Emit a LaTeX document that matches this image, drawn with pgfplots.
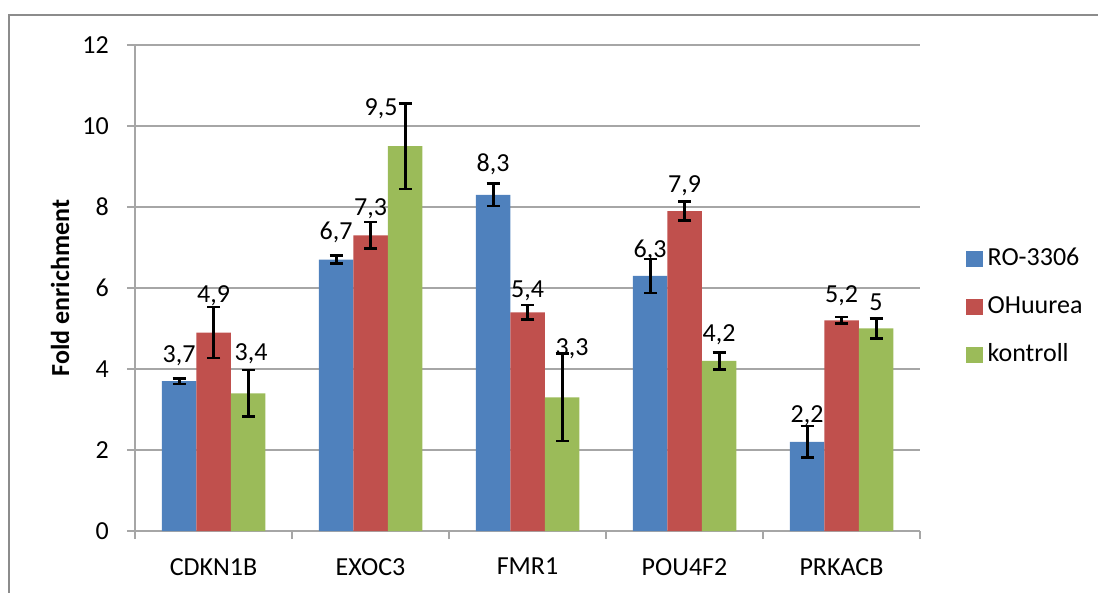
\documentclass[border=0pt]{standalone}
\usepackage{pgfplots}
\pgfplotsset{compat=1.18}
\usepackage{pgfplotstable}
\usepackage{fontspec}
\setmainfont{Carlito}
\definecolor{cblue}{HTML}{4F81BD}
\definecolor{cred}{HTML}{C0504D}
\definecolor{cgreen}{HTML}{9BBB59}
\definecolor{gridgray}{HTML}{A6A6A6}
\definecolor{framegray}{HTML}{8C8C8C}

\pgfplotstableread{
x y err lab off xoff
0 3.7 0.07 3,7 19 0
1 6.7 0.10 6,7 20 0
2 8.3 0.28 8,3 23 0
3 6.3 0.42 6,3 18 0
4 2.2 0.39 2,2 19 0
}\tblue
\pgfplotstableread{
x y err lab off xoff
0 4.9 0.63 4,9 30 0
1 7.3 0.33 7,3 20 0
2 5.4 0.18 5,4 15 0
3 7.9 0.24 7,9 19 0
4 5.2 0.08 5,2 18 0
}\tred
\pgfplotstableread{
x y err lab off xoff
0 3.4 0.58 3,4 33 3
1 9.5 1.06 9,5 31 -24
2 3.3 1.08 3,3 42 10
3 4.2 0.21 4,2 19 0
4 5.0 0.25 5 18 0
}\tgreen

\begin{document}
\begin{tikzpicture}[font=\fontsize{26}{31}\selectfont]
\useasboundingbox (0,0) rectangle (1098pt,592pt);
\draw[framegray, line width=2pt] (1200pt,577pt) -- (9pt,577pt) -- (9pt,-20pt);
\begin{axis}[
  at={(135pt,61pt)}, anchor=south west,
  scale only axis, width=785pt, height=486pt,
  ymin=0, ymax=12, ytick={0,2,...,12},
  xmin=-0.5, xmax=4.5,
  xtick={-0.5,0.5,...,4.5},
  x tick label as interval,
  xticklabels={CDKN1B,EXOC3,FMR1,POU4F2,PRKACB},
  axis x line*=bottom, axis y line*=left,
  axis line style={gridgray, line width=1.3pt, -},
  tick align=outside, major tick length=8pt,
  tick style={gridgray, line width=1.3pt},
  ymajorgrids, xmajorgrids=false,
  grid style={gridgray, line width=1.3pt},
  /pgf/number format/assume math mode=true,
  yticklabel style={inner sep=0pt, xshift=-18pt},
  xticklabel style={inner sep=0pt, yshift=-19pt},
  ylabel={\bfseries Fold enrichment},
  every axis y label/.style={at={(axis description cs:-0.0955,0.5)}, rotate=90, anchor=center},
  ybar=0pt, bar width=34.5pt,
  legend style={draw=none, fill=none, at={(axis description cs:1.0548,0.461)}, anchor=west,
    row sep=24pt, nodes={inner sep=0pt, text height=19pt, text depth=5pt},
    /tikz/every odd column/.append style={column sep=5pt}},
  legend cell align=left,
  ebar/.style={error bars/.cd, y dir=both, y explicit,
    error bar style={black, line width=3pt},
    error mark options={rotate=90, mark size=6.5pt, line width=2.6pt, black}},
  lbl/.style={point meta=explicit symbolic, nodes near coords,
    visualization depends on={\thisrow{off} \as \myoff},
    visualization depends on={\thisrow{xoff} \as \myxoff},
    every node near coord/.append style={anchor=base, inner sep=0pt, yshift=\myoff pt, xshift=\myxoff pt, black}},
]
\addlegendimage{legend image code/.code={\fill[cblue] (0pt,-7.5pt) rectangle (16pt,7.5pt);}}
\addlegendimage{legend image code/.code={\fill[cred] (0pt,-7.5pt) rectangle (16pt,7.5pt);}}
\addlegendimage{legend image code/.code={\fill[cgreen] (0pt,-7.5pt) rectangle (16pt,7.5pt);}}
\legend{RO-3306,OHuurea,kontroll}

\addplot[fill=cblue, draw=none, lbl, ebar]
  table[x=x, y=y, y error=err, meta=lab] {\tblue};
\addplot[fill=cred, draw=none, lbl, ebar]
  table[x=x, y=y, y error=err, meta=lab] {\tred};
\addplot[fill=cgreen, draw=none, lbl, ebar]
  table[x=x, y=y, y error=err, meta=lab] {\tgreen};
\end{axis}
\end{tikzpicture}
\end{document}
